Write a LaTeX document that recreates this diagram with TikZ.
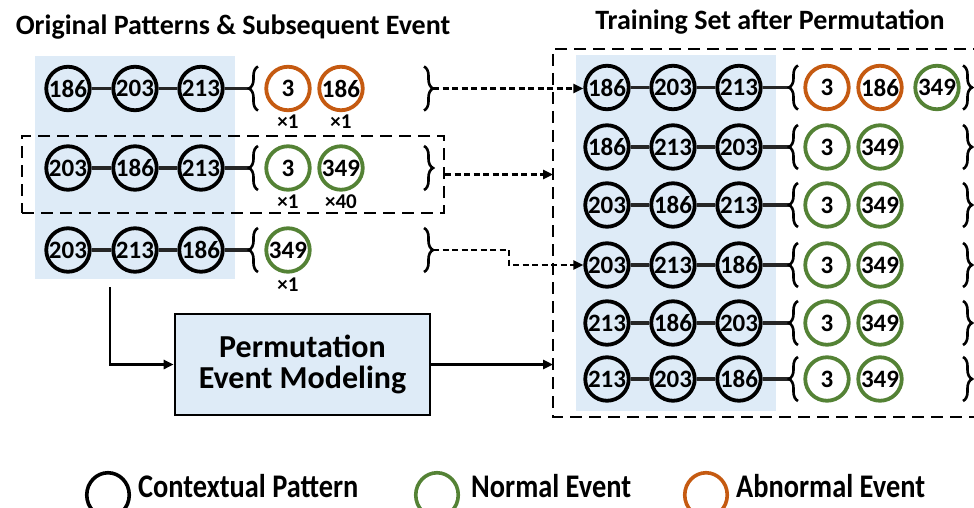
\documentclass[tikz,border=0pt]{standalone}
\usepackage{fontspec}
\setmainfont{Carlito}
\usetikzlibrary{arrows.meta,decorations.pathreplacing,shapes.geometric}
\definecolor{panelblue}{HTML}{DEEBF7}
\definecolor{evgreen}{HTML}{548235}
\definecolor{evorange}{HTML}{C55A11}
\begin{document}
\begin{tikzpicture}[x=1pt,y=-1pt,
  ctx/.style={circle,draw=black,line width=3.8pt,minimum size=43.5pt,inner sep=0pt,
    font=\fontsize{25}{25}\selectfont\bfseries},
  norm/.style={ctx,draw=evgreen},
  abn/.style={ctx,draw=evorange},
  link/.style={line width=3.3pt,draw=black!85},
  bracestyle/.style={decorate,decoration={brace,amplitude=9pt},line width=2.6pt},
  multstyle/.style={font=\fontsize{21}{21}\selectfont\bfseries,inner sep=0pt},
  titlestyle/.style={font=\fontsize{28}{28}\selectfont\bfseries,inner sep=0pt},
  flow/.style={line width=2.5pt,-{Triangle[length=10pt,width=9pt]}},
  dflow/.style={flow,dash pattern=on 6pt off 3.5pt},
  groupframe/.style={line width=2pt,dash pattern=on 12pt off 7pt},
  legendmark/.style={ellipse,line width=3.6pt,minimum width=42.5pt,minimum height=44.5pt,inner sep=0pt},
  legendtext/.style={font=\fontsize{33}{33}\selectfont\bfseries,inner sep=0pt,anchor=base west},
]
\useasboundingbox (0,0) rectangle (974,508);

% shaded panels behind the contextual patterns
\fill[panelblue] (35,56) rectangle (235,279);
\fill[panelblue] (576,55) rectangle (776,411);

% headings
\node[titlestyle] (ttlL) at (233,27) {Original Patterns \& Subsequent Event};
\node[titlestyle] (ttlR) at (770,22) {Training Set after Permutation};

% ---------- original patterns ----------
% row 1
\node[ctx] (l1a) at (68,88.5) {186};
\node[ctx] (l1b) at (135,88.5) {203};
\node[ctx] (l1c) at (201,88.5) {213};
\coordinate (l1o) at (249,88.5);
\coordinate (l1r) at (433,88.5);
\draw[link] (l1a) -- (l1b) (l1b) -- (l1c) (l1c) -- (l1o);
\draw[bracestyle] (258,110.5) -- (258,66.5);
\draw[bracestyle] (424,66.5) -- (424,110.5);
\node[abn] (l1e1) at (288,88.5) {3};
\node[abn] (l1e2) at (341,88.5) {186};
\node[multstyle] (l1m1) at (288,122) {×1};
\node[multstyle] (l1m2) at (341,122) {×1};

% row 2
\node[ctx] (l2a) at (68,168) {203};
\node[ctx] (l2b) at (135,168) {186};
\node[ctx] (l2c) at (201,168) {213};
\coordinate (l2o) at (249,168);
\draw[link] (l2a) -- (l2b) (l2b) -- (l2c) (l2c) -- (l2o);
\draw[bracestyle] (258,190) -- (258,146);
\draw[bracestyle] (424,146) -- (424,190);
\node[norm] (l2e1) at (288,168) {3};
\node[norm] (l2e2) at (341,168) {349};
\node[multstyle] (l2m1) at (288,202) {×1};
\node[multstyle] (l2m2) at (341,202) {×40};

% row 3
\node[ctx] (l3a) at (68,250) {203};
\node[ctx] (l3b) at (135,250) {213};
\node[ctx] (l3c) at (201,250) {186};
\coordinate (l3o) at (249,250);
\coordinate (l3r) at (433,250);
\draw[link] (l3a) -- (l3b) (l3b) -- (l3c) (l3c) -- (l3o);
\draw[bracestyle] (258,272) -- (258,228);
\draw[bracestyle] (424,228) -- (424,272);
\node[norm] (l3e1) at (288,250) {349};
\node[multstyle] (l3m1) at (288,285) {×1};

% dashed group around row 2
\node[groupframe,draw,minimum width=422pt,minimum height=77pt,inner sep=0pt] (grp) at (233,174.5) {};

% ---------- training set ----------
\coordinate (trainW) at (553,233);
\draw[groupframe] (985,49) -| (553,417) -- (985,417);

% row 1
\node[ctx] (r1a) at (607,87.5) {186};
\node[ctx] (r1b) at (673,87.5) {203};
\node[ctx] (r1c) at (739,87.5) {213};
\coordinate (r1o) at (789,87.5);
\draw[link] (r1a) -- (r1b) (r1b) -- (r1c) (r1c) -- (r1o);
\draw[bracestyle] (798,109.5) -- (798,65.5);
\draw[bracestyle] (963,65.5) -- (963,109.5);
\node[abn] (r1e1) at (827,87.5) {3};
\node[abn] (r1e2) at (880,87.5) {186};
\node[norm] (r1e3) at (937,87.5) {349};

% row 2
\node[ctx] (r2a) at (607,147) {186};
\node[ctx] (r2b) at (673,147) {213};
\node[ctx] (r2c) at (739,147) {203};
\coordinate (r2o) at (789,147);
\draw[link] (r2a) -- (r2b) (r2b) -- (r2c) (r2c) -- (r2o);
\draw[bracestyle] (798,169) -- (798,125);
\draw[bracestyle] (963,125) -- (963,169);
\node[norm] (r2e1) at (827,147) {3};
\node[norm] (r2e2) at (880,147) {349};

% row 3
\node[ctx] (r3a) at (607,205) {203};
\node[ctx] (r3b) at (673,205) {186};
\node[ctx] (r3c) at (739,205) {213};
\coordinate (r3o) at (789,205);
\draw[link] (r3a) -- (r3b) (r3b) -- (r3c) (r3c) -- (r3o);
\draw[bracestyle] (798,227) -- (798,183);
\draw[bracestyle] (963,183) -- (963,227);
\node[norm] (r3e1) at (827,205) {3};
\node[norm] (r3e2) at (880,205) {349};

% row 4
\node[ctx] (r4a) at (607,265) {203};
\node[ctx] (r4b) at (673,265) {213};
\node[ctx] (r4c) at (739,265) {186};
\coordinate (r4o) at (789,265);
\draw[link] (r4a) -- (r4b) (r4b) -- (r4c) (r4c) -- (r4o);
\draw[bracestyle] (798,287) -- (798,243);
\draw[bracestyle] (963,243) -- (963,287);
\node[norm] (r4e1) at (827,265) {3};
\node[norm] (r4e2) at (880,265) {349};

% row 5
\node[ctx] (r5a) at (607,323) {213};
\node[ctx] (r5b) at (673,323) {186};
\node[ctx] (r5c) at (739,323) {203};
\coordinate (r5o) at (789,323);
\draw[link] (r5a) -- (r5b) (r5b) -- (r5c) (r5c) -- (r5o);
\draw[bracestyle] (798,345) -- (798,301);
\draw[bracestyle] (963,301) -- (963,345);
\node[norm] (r5e1) at (827,323) {3};
\node[norm] (r5e2) at (880,323) {349};

% row 6
\node[ctx] (r6a) at (607,379) {213};
\node[ctx] (r6b) at (673,379) {203};
\node[ctx] (r6c) at (739,379) {186};
\coordinate (r6o) at (789,379);
\draw[link] (r6a) -- (r6b) (r6b) -- (r6c) (r6c) -- (r6o);
\draw[bracestyle] (798,401) -- (798,357);
\draw[bracestyle] (963,357) -- (963,401);
\node[norm] (r6e1) at (827,379) {3};
\node[norm] (r6e2) at (880,379) {349};

% ---------- permutation step ----------
\node[draw,line width=2.6pt,fill=panelblue,minimum width=255pt,minimum height=101pt,
  align=center,inner sep=0pt,font=\fontsize{32}{31}\selectfont\bfseries]
  (model) at (302.5,364.5) {Permutation\\Event Modeling};

\coordinate (split) at (110,287);
\draw[flow] (split) |- (model.west);
\draw[flow] (model.east) -- (model.east -| trainW);

% dashed copies into the training set
\draw[dflow] (l1r) -- (l1r -| r1a.west);
\draw[dflow] (grp.east) -- (grp.east -| trainW);
\coordinate (bend) at (509,250);
\draw[dflow] (l3r) -- (bend) |- (r4a.west);

% ---------- legend ----------
\node[legendmark,draw=black] (lgC) at (108,495) {};
\node[legendtext] (lgCt) at (138,497) {\scalebox{0.86}[1]{Contextual Pattern}};
\node[legendmark,draw=evgreen] (lgN) at (437,495) {};
\node[legendtext] (lgNt) at (471,497) {\scalebox{0.86}[1]{Normal Event}};
\node[legendmark,draw=evorange] (lgA) at (706,495) {};
\node[legendtext] (lgAt) at (736,497) {\scalebox{0.86}[1]{Abnormal Event}};
\end{tikzpicture}
\end{document}
